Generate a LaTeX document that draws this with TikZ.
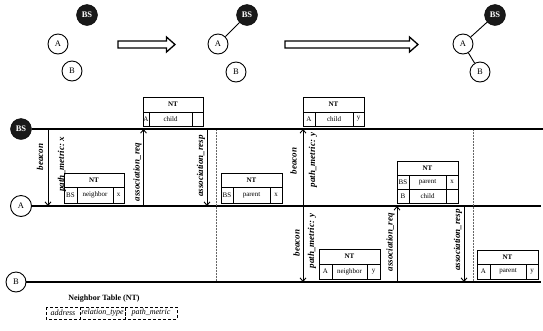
\documentclass[tikz,border=0pt]{standalone}
\usepackage{fontspec}
\setmainfont{Liberation Serif}
\usetikzlibrary{arrows.meta}
\newcommand\ntcell[6]{\draw[tabline] (#2,#3) rectangle (#4,#5); \path (#2,#3) -- (#4,#5) node[midway,celltxt] (#1) {#6};}
\newcommand\lgcell[6]{\draw[lgline] (#2,#3) rectangle (#4,#5); \path (#2,#3) -- (#4,#5) node[midway,lgtxt] (#1) {#6};}
\begin{document}
\begin{tikzpicture}[x=1pt,y=-1pt,
  stnode/.style={circle,draw,line width=0.9pt,minimum size=20pt,inner sep=0pt,font=\fontsize{8.5}{8.5}\selectfont},
  bsnode/.style={circle,fill=black!90,draw=black,minimum size=21pt,inner sep=0pt,text=white,font=\bfseries\fontsize{8.5}{8.5}\selectfont},
  link/.style={line width=0.9pt},
  hollow/.style={line width=1.3pt,fill=white},
  tline/.style={line width=1.3pt},
  bsline/.style={line width=1.6pt},
  msg/.style={line width=0.9pt,-{Straight Barb[length=3.5pt,width=6pt]}},
  msgboth/.style={line width=0.9pt,{Straight Barb[length=3.5pt,width=6pt]}-{Straight Barb[length=3.5pt,width=6pt]}},
  dotv/.style={line width=0.5pt,densely dotted,black!60},
  tabline/.style={line width=0.8pt},
  celltxt/.style={inner sep=0pt,font=\fontsize{7}{7}\selectfont},
  lgline/.style={line width=0.6pt,densely dashed},
  lgtxt/.style={inner sep=0pt,font=\itshape\fontsize{8}{8}\selectfont},
  lbl/.style={rotate=90,inner sep=0pt,font=\bfseries\itshape\fontsize{9}{9}\selectfont}
]
\useasboundingbox (0,0) rectangle (543,330);

% ---------- top: three states ----------
\node[bsnode] (bs1) at (87,15) {BS};
\node[stnode] (a1) at (58,44) {A};
\node[stnode] (b1) at (72,71) {B};

\node[bsnode] (bs2) at (247,15) {BS};
\node[stnode] (a2) at (218,44) {A};
\node[stnode] (b2) at (236,72) {B};
\draw[link] (a2) -- (bs2);

\node[bsnode] (bs3) at (495,15) {BS};
\node[stnode] (a3) at (463,44) {A};
\node[stnode] (b3) at (480,72) {B};
\draw[link] (a3) -- (bs3);
\draw[link] (a3) -- (b3);

\draw[hollow] (118,41) -- (166.5,41) -- (166.5,37) -- (175,44.5) -- (166.5,52) -- (166.5,48) -- (118,48) -- cycle;
\draw[hollow] (285,41) -- (409.5,41) -- (409.5,37) -- (418,44.5) -- (409.5,52) -- (409.5,48) -- (285,48) -- cycle;

% ---------- timelines ----------
\node[bsnode] (bsL) at (21,129) {BS};
\node[stnode,minimum size=21pt] (aL) at (21,206) {A};
\node[stnode] (bL) at (16,282) {B};
\coordinate (bsE) at (543,129);
\coordinate (aE) at (541,206);
\coordinate (bE) at (541,282);
\draw[bsline] (bsL.east) -- (bsE);
\draw[tline] (aL.east) -- (aE);
\draw[tline] (bL.east) -- (bE);

% dotted separators
\coordinate (d1t) at (216,130); \coordinate (d1b) at (216,281);
\coordinate (d2t) at (473,130); \coordinate (d2b) at (473,281);
\draw[dotv] (d1t) -- (d1b);
\draw[dotv] (d2t) -- (d2b);

% ---------- messages ----------
\coordinate (m1s) at (48,129);  \coordinate (m1e) at (48,206);
\coordinate (m2s) at (143.5,206); \coordinate (m2e) at (143.5,129);
\coordinate (m3s) at (207,129); \coordinate (m3e) at (207,206);
\coordinate (m4s) at (303,129); \coordinate (m4e) at (303,282);
\coordinate (m5s) at (397,282); \coordinate (m5e) at (397,206);
\coordinate (m6s) at (464,206); \coordinate (m6e) at (464,282);
\draw[msg] (m1s) -- (m1e);
\draw[msg] (m2s) -- (m2e);
\draw[msg] (m3s) -- (m3e);
\draw[msgboth] (m4s) -- (m4e);
\draw[msg] (m5s) -- (m5e);
\draw[msg] (m6s) -- (m6e);

\node[lbl] (l1) at (40,157) {beacon};
\node[lbl] (l2) at (62,164) {path\_metric: x};
\node[lbl] (l3) at (137.5,172) {association\_req};
\node[lbl] (l4) at (201,166) {association\_resp};
\node[lbl] (l5) at (293.5,161) {beacon};
\node[lbl] (l6) at (313,160) {path\_metric: y};
\node[lbl] (l7) at (296.5,243) {beacon};
\node[lbl] (l8) at (312,241) {path\_metric: y};
\node[lbl] (l9) at (390.5,242) {association\_req};
\node[lbl] (l10) at (458,240) {association\_resp};

% ---------- neighbor tables ----------
% T1: A's table after beacon
\ntcell{t1h}{64}{173}{124}{187}{\bfseries NT}
\ntcell{t1a}{64}{187}{77}{203}{BS}
\ntcell{t1b}{77}{187}{113}{203}{neighbor}
\ntcell{t1c}{113}{187}{124}{203}{x}
% T2: BS's table (child A)
\ntcell{t2h}{143}{97}{203}{112}{\bfseries NT}
\ntcell{t2a}{143}{112}{149}{126}{A}
\ntcell{t2b}{149}{112}{192}{126}{child}
\ntcell{t2c}{192}{112}{203}{126}{}
% T3: A's table (parent BS)
\ntcell{t3h}{221}{173}{282}{187}{\bfseries NT}
\ntcell{t3a}{221}{187}{233}{203}{BS}
\ntcell{t3b}{233}{187}{270}{203}{parent}
\ntcell{t3c}{270}{187}{282}{203}{x}
% T4: BS's table (child A, y)
\ntcell{t4h}{303}{97}{364}{112}{\bfseries NT}
\ntcell{t4a}{303}{112}{315}{126}{A}
\ntcell{t4b}{315}{112}{353}{126}{child}
\ntcell{t4c}{353}{112}{364}{126}{y}
% T5: A's table (parent BS, child B)
\ntcell{t5h}{397}{161}{458}{175}{\bfseries NT}
\ntcell{t5a}{397}{175}{409}{189}{BS}
\ntcell{t5b}{409}{175}{446}{189}{parent}
\ntcell{t5c}{446}{175}{458}{189}{x}
\ntcell{t5d}{397}{189}{409}{203}{B}
\ntcell{t5e}{409}{189}{446}{203}{child}
\ntcell{t5f}{446}{189}{458}{203}{}
% T6: B's table (neighbor A)
\ntcell{t6h}{319}{249}{380}{264}{\bfseries NT}
\ntcell{t6a}{319}{264}{332}{279}{A}
\ntcell{t6b}{332}{264}{367}{279}{neighbor}
\ntcell{t6c}{367}{264}{380}{279}{y}
% T7: B's table (parent A)
\ntcell{t7h}{477}{250}{538}{264}{\bfseries NT}
\ntcell{t7a}{477}{264}{490}{279}{A}
\ntcell{t7b}{490}{264}{526}{279}{parent}
\ntcell{t7c}{526}{264}{538}{279}{y}

% ---------- legend ----------
\node[inner sep=0pt,font=\bfseries\fontsize{8}{8}\selectfont] (lgt) at (104,299) {Neighbor Table (NT)};
\lgcell{lg1}{46}{307}{80}{319}{address}
\lgcell{lg2}{80}{307}{125}{319}{relation\_type}
\lgcell{lg3}{125}{307}{177}{319}{path\_metric}
\end{tikzpicture}
\end{document}
